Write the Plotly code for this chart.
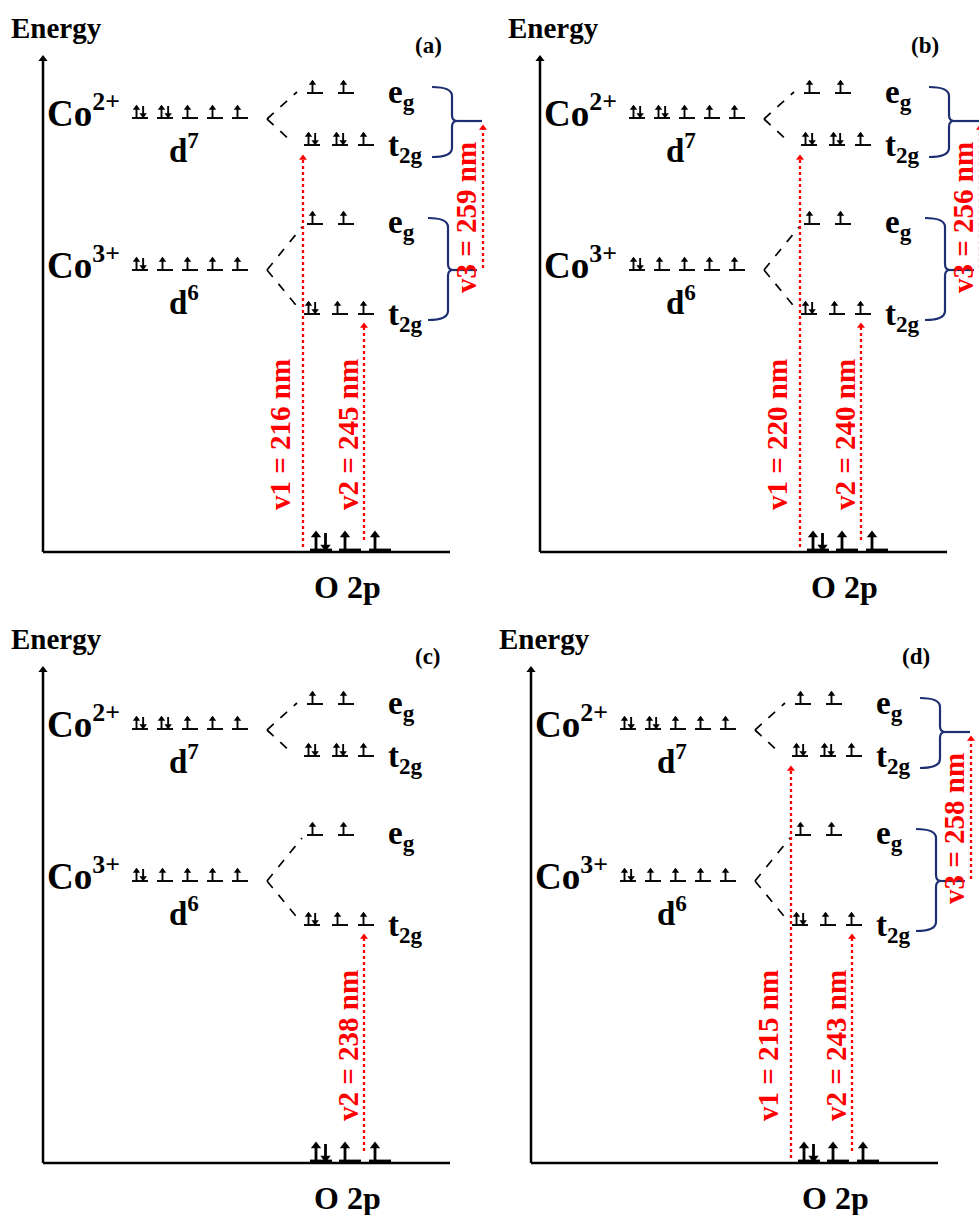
import plotly.graph_objects as go

# ---------------- data ----------------
panel_tags = ["(a)", "(b)", "(c)", "(d)"]
v1_nm = [216, 220, None, 215]   # O 2p -> Co2+ t2g
v2_nm = [245, 240, 238, 243]    # O 2p -> Co3+ t2g
v3_nm = [259, 256, None, 258]   # Co3+ -> Co2+ (crystal-field)

# electrons per orbital
co2_free = [2, 2, 1, 1, 1]
co3_free = [2, 1, 1, 1, 1]
co2_eg = [1, 1]
co2_t2g = [2, 2, 1]
co3_eg = [1, 1]
co3_t2g = [2, 1, 1]
o2p = [2, 1, 1]

# ---------------- layout constants (pixel-like coordinates) ----------------
W, H = 979, 1215
ORIGINS = [(0, 0), (497, 0), (0, 611), (488, 611)]

Y_CO2, Y_CO2_EG, Y_CO2_T2G = 118, 93, 145
Y_CO3, Y_CO3_EG, Y_CO3_T2G = 270, 224, 314
Y_O2P, Y_BASE = 550, 552
AX_X, AX_TOP, AX_RIGHT = 43, 55, 450
FREE_X = [140, 165, 190, 215, 240]
EG_X = [315, 346]
T2G_X = [312, 340, 366]
O2P_X = [321, 350, 380]
SPLIT_X = 267

FONT = "Liberation Serif"
RED = "#ff0000"
NAVY = "#1d2f72"

fig = go.Figure()
annotations = []
shapes = []

seg_thin = ([], [])      # orbital lines / small arrows
seg_thick = ([], [])     # O 2p orbitals
seg_axis = ([], [])
seg_dash = ([], [])
seg_red = ([], [])
heads_up_small = ([], [])
heads_dn_small = ([], [])
heads_up_big = ([], [])
heads_dn_big = ([], [])
heads_red = ([], [])
heads_axis = ([], [])


def add_seg(store, x0, y0, x1, y1):
    store[0].extend([x0, x1, None])
    store[1].extend([y0, y1, None])


def add_pt(store, x, y):
    store[0].append(x)
    store[1].append(y)


def orbitals(ox, oy, centers, occ, y, big=False):
    hw = 11 if big else 8
    h = 17 if big else 12
    dx = 5 if big else 3.5
    line_store = seg_thick if big else seg_thin
    up = heads_up_big if big else heads_up_small
    dn = heads_dn_big if big else heads_dn_small
    for cx, n in zip(centers, occ):
        X, Y = ox + cx, oy + y
        add_seg(line_store, X - hw, Y, X + hw, Y)
        if n == 2:
            xu, xd = X - dx, X + dx * 0.9
            add_seg(line_store, xu, Y, xu, Y - h)
            add_pt(up, xu, Y - h + 2)
            add_seg(line_store, xd, Y - h, xd, Y)
            add_pt(dn, xd, Y - 3)
        else:
            xu = X - (dx if big else 2.5)
            add_seg(line_store, xu, Y, xu, Y - h)
            add_pt(up, xu, Y - h + 2)


def brace(ox, oy, xl, xv, yt, ym, yb, xend):
    r = 9
    p = (f"M {ox+xl},{oy+yt} Q {ox+xv},{oy+yt} {ox+xv},{oy+yt+r} "
         f"L {ox+xv},{oy+ym-6} Q {ox+xv},{oy+ym} {ox+xv+5},{oy+ym} "
         f"Q {ox+xv},{oy+ym} {ox+xv},{oy+ym+6} "
         f"L {ox+xv},{oy+yb-r} Q {ox+xv},{oy+yb} {ox+xl},{oy+yb}")
    shapes.append(dict(type="path", xref="x", yref="y", path=p,
                       line=dict(color=NAVY, width=2.2)))
    shapes.append(dict(type="line", xref="x", yref="y",
                       x0=ox + xv + 5, y0=oy + ym, x1=ox + xend, y1=oy + ym,
                       line=dict(color=NAVY, width=2.2)))


def text(x, y, s, size, color="black", xanchor="center", angle=0):
    annotations.append(dict(x=x, y=y, xref="x", yref="y", text=s, showarrow=False,
                            xanchor=xanchor, yanchor="middle", textangle=angle,
                            font=dict(family=FONT, size=size, color=color,
                                      weight="bold")))


for i, (ox, oy) in enumerate(ORIGINS):
    # energy axis and baseline
    add_seg(seg_axis, ox + AX_X, oy + Y_BASE, ox + AX_X, oy + AX_TOP + 4)
    add_pt(heads_axis, ox + AX_X, oy + AX_TOP + 4)
    add_seg(seg_axis, ox + AX_X, oy + Y_BASE, ox + AX_RIGHT, oy + Y_BASE)
    text(ox + 9, oy + 28, "Energy", 29, xanchor="left")
    text(ox + 428, oy + 45, panel_tags[i], 23)

    # free ions
    text(ox + 45, oy + 110, "Co<sup>2+</sup>", 37, xanchor="left")
    text(ox + 45, oy + 262, "Co<sup>3+</sup>", 37, xanchor="left")
    text(ox + 184, oy + 148, "d<sup>7</sup>", 33)
    text(ox + 184, oy + 300, "d<sup>6</sup>", 33)
    orbitals(ox, oy, FREE_X, co2_free, Y_CO2)
    orbitals(ox, oy, FREE_X, co3_free, Y_CO3)

    # crystal-field splitting
    add_seg(seg_dash, ox + SPLIT_X, oy + Y_CO2 + 1, ox + 297, oy + Y_CO2_EG - 1)
    add_seg(seg_dash, ox + SPLIT_X, oy + Y_CO2 + 1, ox + 292, oy + Y_CO2_T2G - 3)
    add_seg(seg_dash, ox + SPLIT_X, oy + Y_CO3, ox + 302, oy + Y_CO3_EG + 3)
    add_seg(seg_dash, ox + SPLIT_X, oy + Y_CO3, ox + 300, oy + Y_CO3_T2G - 4)
    orbitals(ox, oy, EG_X, co2_eg, Y_CO2_EG)
    orbitals(ox, oy, T2G_X, co2_t2g, Y_CO2_T2G)
    orbitals(ox, oy, EG_X, co3_eg, Y_CO3_EG)
    orbitals(ox, oy, T2G_X, co3_t2g, Y_CO3_T2G)
    text(ox + 386, oy + 94, "e<sub>g</sub>", 33, xanchor="left")
    text(ox + 386, oy + 147, "t<sub>2g</sub>", 33, xanchor="left")
    text(ox + 386, oy + 224, "e<sub>g</sub>", 33, xanchor="left")
    text(ox + 386, oy + 316, "t<sub>2g</sub>", 33, xanchor="left")

    # O 2p band
    orbitals(ox, oy, O2P_X, o2p, Y_O2P, big=True)
    text(ox + 347, oy + 587, "O 2p", 32)

    # charge-transfer transitions
    if v1_nm[i] is not None:
        x = ox + 303
        add_seg(seg_red, x, oy + 547, x, oy + Y_CO2_T2G + 14)
        add_pt(heads_red, x, oy + Y_CO2_T2G + 13)
        text(ox + 280, oy + 435, "v1 = %d nm" % v1_nm[i], 29, color=RED, angle=-90)
    if v2_nm[i] is not None:
        x = ox + 364
        add_seg(seg_red, x, oy + 540, x, oy + Y_CO3_T2G + 13)
        add_pt(heads_red, x, oy + Y_CO3_T2G + 12)
        text(ox + 348, oy + 435, "v2 = %d nm" % v2_nm[i], 29, color=RED, angle=-90)
    if v3_nm[i] is not None:
        brace(ox, oy, 432, 452, 87, 121, 157, 482)
        brace(ox, oy, 428, 448, 218, 270, 320, 477)
        x = ox + 483
        add_seg(seg_red, x, oy + 268, x, oy + 129)
        add_pt(heads_red, x, oy + 128)
        text(ox + 466, oy + 218, "v3 = %d nm" % v3_nm[i], 29, color=RED, angle=-90)


def line_trace(store, color, width, dash="solid"):
    fig.add_trace(go.Scatter(x=store[0], y=store[1], mode="lines",
                             line=dict(color=color, width=width, dash=dash),
                             hoverinfo="skip", showlegend=False))


def head_trace(store, symbol, color, size):
    fig.add_trace(go.Scatter(x=store[0], y=store[1], mode="markers",
                             marker=dict(symbol=symbol, color=color, size=size,
                                         line=dict(width=0)),
                             hoverinfo="skip", showlegend=False))


line_trace(seg_dash, "black", 1.7, "dash")
line_trace(seg_red, RED, 2.3, "dot")
line_trace(seg_thin, "black", 1.9)
line_trace(seg_thick, "black", 2.8)
line_trace(seg_axis, "black", 2.5)
head_trace(heads_up_small, "triangle-up", "black", 6.5)
head_trace(heads_dn_small, "triangle-down", "black", 6.5)
head_trace(heads_up_big, "triangle-up", "black", 9)
head_trace(heads_dn_big, "triangle-down", "black", 9)
head_trace(heads_red, "triangle-up", RED, 7)
head_trace(heads_axis, "triangle-up", "black", 8)

fig.update_layout(
    width=W, height=H,
    margin=dict(l=0, r=0, t=0, b=0),
    paper_bgcolor="white", plot_bgcolor="white",
    xaxis=dict(range=[0, W], visible=False, fixedrange=True),
    yaxis=dict(range=[H, 0], visible=False, fixedrange=True),
    annotations=annotations, shapes=shapes,
    showlegend=False,
)

fig.write_html("out.html")
